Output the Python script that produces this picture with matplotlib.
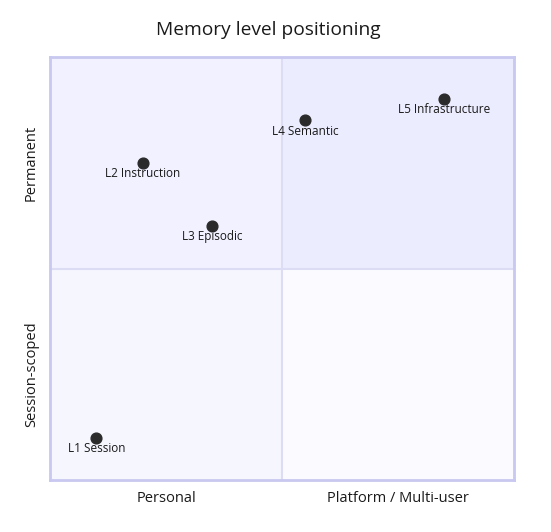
import matplotlib.pyplot as plt
from matplotlib.patches import Rectangle

plt.rcParams['font.family'] = ['Open Sans', 'DejaVu Sans']

names = ['L1 Session', 'L2 Instruction', 'L3 Episodic', 'L4 Semantic', 'L5 Infrastructure']
xs = [0.10, 0.20, 0.35, 0.55, 0.85]
ys = [0.10, 0.75, 0.60, 0.85, 0.90]

x_labels = ['Personal', 'Platform / Multi-user']
y_labels = ['Session-scoped', 'Permanent']
title = 'Memory level positioning'

fig = plt.figure(figsize=(5.51, 5.32), dpi=100)
ax = fig.add_axes([50 / 551, 52 / 532, 464 / 551, 423 / 532])
ax.set_xlim(0, 1)
ax.set_ylim(0, 1)

# quadrant fills: bottom-left, bottom-right, top-left, top-right
fills = {(0, 0): '#f6f6ff', (0.5, 0): '#fbfbff', (0, 0.5): '#f1f1ff', (0.5, 0.5): '#ececff'}
for (qx, qy), c in fills.items():
    ax.add_patch(Rectangle((qx, qy), 0.5, 0.5, facecolor=c, edgecolor='none', zorder=0))
ax.axvline(0.5, color='#dcdcf5', lw=1.5, zorder=1)
ax.axhline(0.5, color='#dcdcf5', lw=1.5, zorder=1)
for s in ax.spines.values():
    s.set_color('#c8c8f0')
    s.set_linewidth(2)
ax.set_xticks([])
ax.set_yticks([])

ax.scatter(xs, ys, s=60, color='#2b2b2b', zorder=3)
for n, x, y in zip(names, xs, ys):
    ax.annotate(n, (x, y), xytext=(0, -3), textcoords='offset points',
                ha='center', va='top', fontsize=8.5, color='#1a1a1a', zorder=4)

for i, t in enumerate(x_labels):
    ax.text(0.25 + 0.5 * i, -0.025, t, transform=ax.transAxes, ha='center', va='top',
            fontsize=10.5, color='#1a1a1a')
for i, t in enumerate(y_labels):
    ax.text(-0.04, 0.25 + 0.5 * i, t, transform=ax.transAxes, ha='center', va='center',
            rotation=90, fontsize=10.5, color='#1a1a1a')

fig.text(268 / 551, 1 - 30 / 532, title, ha='center', va='center', fontsize=13.8, color='#1a1a1a')

fig.savefig('out.png', dpi=100)
